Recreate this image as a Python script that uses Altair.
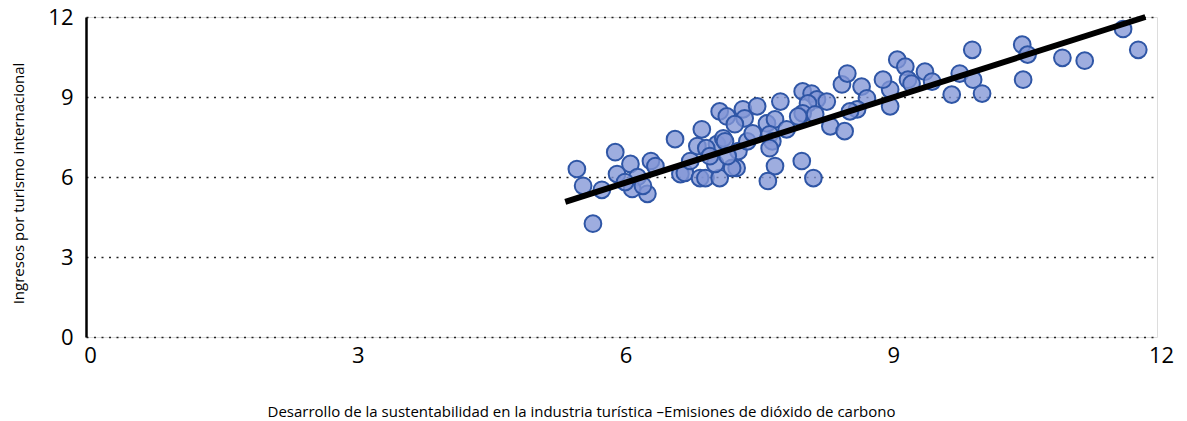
import altair as alt
import pandas as pd

x_vals = [5.50, 5.57, 5.78, 5.68, 5.93, 5.95, 6.10, 6.33, 6.18, 6.12, 6.29, 6.04, 6.24, 6.38,
          6.60, 6.90, 6.85, 7.07, 7.14, 6.95, 7.16, 6.66, 6.71, 6.88, 6.94, 7.10, 7.05, 7.29,
          7.24, 7.31, 7.41, 7.47, 6.77, 6.99, 7.19,
          7.10, 7.18, 7.36, 7.52, 7.78, 7.38, 7.27, 7.63, 7.72, 7.85, 7.66, 7.69, 7.66, 7.72,
          7.64, 8.02, 8.15,
          8.03, 8.13, 8.19, 8.09, 8.30, 8.03, 8.17, 7.98, 8.34, 8.50, 8.47, 8.53, 8.69, 8.75,
          8.64, 8.56, 9.09, 9.18, 9.21, 9.01, 8.93, 9.01, 9.40, 9.48, 9.79, 9.94, 10.04, 9.70,
          9.93, 10.49, 10.55, 10.50, 10.94, 11.19, 11.62, 11.79, 9.25]
y_vals = [6.30, 5.67, 5.52, 4.25, 6.93, 6.11, 6.49, 6.60, 6.00, 5.55, 5.37, 5.81, 5.67, 6.41,
          7.42, 7.79, 7.16, 7.23, 7.45, 7.08, 7.34, 6.11, 6.15, 5.96, 5.96, 5.96, 6.49, 6.34,
          6.34, 6.97, 7.34, 7.64, 6.60, 6.78, 6.78,
          8.46, 8.27, 8.54, 8.65, 8.83, 8.20, 7.98, 8.01, 8.16, 7.79, 7.60, 7.34, 7.08, 6.41,
          5.85, 6.60, 5.96,
          9.21, 9.13, 8.91, 8.76, 8.83, 8.39, 8.35, 8.27, 7.90, 7.72, 9.47, 9.88, 9.39, 8.95,
          8.54, 8.46, 10.40, 10.14, 9.65, 9.28, 9.65, 8.65, 9.95, 9.58, 9.88, 9.65, 9.13, 9.09,
          10.77, 10.96, 10.59, 9.65, 10.47, 10.36, 11.55, 10.77, 9.50]

trend_x = [5.37, 11.87]
trend_y = [5.07, 12.0]

x_ticks = [0, 3, 6, 9, 12]
y_ticks = [0, 3, 6, 9, 12]

x_title = "Desarrollo de la sustentabilidad en la industria turística –Emisiones de dióxido de carbono"
y_title = "Ingresos por turismo internacional"

pts = pd.DataFrame({"x": x_vals, "y": y_vals})
trend = pd.DataFrame({"x": trend_x, "y": trend_y})

xscale = alt.Scale(domain=[0, 12], nice=False, zero=False)
yscale = alt.Scale(domain=[0, 12], nice=False, zero=False)

xaxis = alt.Axis(values=x_ticks, format="d", grid=False, domain=False, ticks=False,
                 labelFont="Open Sans", labelFontSize=22, labelColor="#000",
                 labelPadding=8, labelFlush=False, labelOffset=4,
                 title=x_title, titleFont="Open Sans", titleFontSize=15,
                 titleFontWeight="normal", titleColor="#000", titleBaseline="middle",
                 titleY=74, titleX=495, titleAlign="center")
yaxis = alt.Axis(values=y_ticks, format="d", grid=True, gridDash=[2, 5.5], gridColor="#222",
                 gridWidth=1.6, domain=True, domainColor="#000", domainWidth=2.5,
                 ticks=False, labelFont="Open Sans", labelFontSize=22, labelColor="#000",
                 labelPadding=13,
                 title=y_title, titleFont="Open Sans", titleFontSize=15,
                 titleFontWeight="normal", titleColor="#000", titleAngle=-90,
                 titleBaseline="middle", titleAlign="center", titleX=-68, titleY=166)

points = alt.Chart(pts).mark_circle(
    size=280, fill="#8396d6", fillOpacity=0.78, stroke="#2f56a6", strokeWidth=2, opacity=1
).encode(
    x=alt.X("x:Q", scale=xscale, axis=xaxis),
    y=alt.Y("y:Q", scale=yscale, axis=yaxis),
)

line = alt.Chart(trend).mark_line(color="#000", strokeWidth=6).encode(
    x=alt.X("x:Q", scale=xscale),
    y=alt.Y("y:Q", scale=yscale),
)

chart = (points + line).properties(
    width=1071, height=320,
    autosize=alt.AutoSizeParams(type="none"),
    padding={"left": 78, "top": 9, "right": 20, "bottom": 84},
).configure_view(stroke=None).configure(background="#ffffff")

chart.save("out.html", embed_options={"renderer": "svg", "actions": False})
